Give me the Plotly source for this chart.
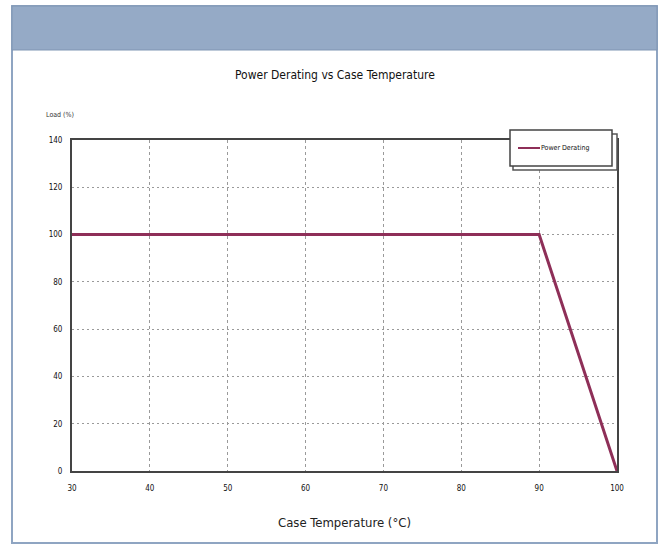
import plotly.graph_objects as go

temps = [30, 90, 100]
load = [100, 100, 0]
x_ticks = [30, 40, 50, 60, 70, 80, 90, 100]
y_ticks = [0, 20, 40, 60, 80, 100, 120, 140]
series_name = "Power Derating"

W, H = 660, 545
L, R, T, B = 72, 617, 140, 471  # page coords of plot area


def px(x):
    return (x - L) / (R - L)


def py(y):
    return (B - y) / (B - T)


font_family = "DejaVu Sans Condensed, Liberation Sans Narrow, Arial Narrow, Liberation Sans, sans-serif"
tick_font = dict(size=8, family=font_family, color="#111")

fig = go.Figure()
fig.add_trace(go.Scatter(
    x=temps, y=load, mode="lines", name=series_name,
    line=dict(color="#8e2f58", width=3), showlegend=False,
))

fig.update_layout(
    width=W, height=H,
    margin=dict(l=L, r=W - R, t=T, b=H - B, pad=0),
    paper_bgcolor="white", plot_bgcolor="white",
    showlegend=False,
    font=dict(family=font_family, color="#222"),
    xaxis=dict(range=[30, 100], tickvals=x_ticks, ticktext=[str(v) for v in x_ticks],
               showgrid=True, gridcolor="#9a9a9a", griddash="3px,3px", gridwidth=1,
               showline=True, linecolor="#444", linewidth=2, mirror=True,
               zeroline=False, ticks="", tickfont=tick_font,
               ticklabelstandoff=8,
               title=dict(text="Case Temperature (°C)", font=dict(size=13, family=font_family, color="#222"),
                          standoff=26)),
    yaxis=dict(range=[0, 140], tickvals=y_ticks, ticktext=[str(v) for v in y_ticks],
               showgrid=True, gridcolor="#9a9a9a", griddash="2px,3px", gridwidth=1,
               showline=True, linecolor="#444", linewidth=2, mirror=True,
               zeroline=False, ticks="", tickfont=tick_font,
               ticklabelstandoff=6),
)

shapes = [
    # outer frame
    dict(type="rect", xref="paper", yref="paper", x0=px(12), x1=px(657),
         y0=py(543), y1=py(6),
         line=dict(color="#8fa5c2", width=2), fillcolor="rgba(0,0,0,0)", layer="below"),
    # header band
    dict(type="rect", xref="paper", yref="paper", x0=px(12), x1=px(657),
         y0=py(50), y1=py(6),
         line=dict(color="#7f95b3", width=1), fillcolor="#95aac6", layer="below"),
    # legend shadow
    dict(type="rect", xref="paper", yref="paper", x0=px(513), x1=px(617),
         y0=py(170), y1=py(134),
         line=dict(color="#555", width=1.5), fillcolor="white", layer="above"),
    # legend box
    dict(type="rect", xref="paper", yref="paper", x0=px(510), x1=px(612),
         y0=py(166), y1=py(130),
         line=dict(color="#444", width=1.5), fillcolor="white", layer="above"),
    # legend line sample
    dict(type="line", xref="paper", yref="paper", x0=px(518), x1=px(540),
         y0=py(148), y1=py(148),
         line=dict(color="#8e2f58", width=2), layer="above"),
]
fig.update_layout(shapes=shapes)

fig.add_annotation(text="Power Derating vs Case Temperature", xref="paper", yref="paper",
                   x=px(335), y=py(75), showarrow=False,
                   font=dict(size=12, family=font_family, color="#111"), xanchor="center", yanchor="middle")
fig.add_annotation(text="Load (%)", xref="paper", yref="paper",
                   x=px(44), y=py(115), showarrow=False,
                   font=dict(size=7, family=font_family, color="#333"), xanchor="left", yanchor="middle")
fig.add_annotation(text=series_name, xref="paper", yref="paper",
                   x=px(539), y=py(148), showarrow=False,
                   font=dict(size=7, family=font_family, color="#111"), xanchor="left", yanchor="middle")

fig.write_html("out.html", config={"displayModeBar": False},
               post_script="document.body.style.margin='0';document.body.style.overflow='hidden';")
